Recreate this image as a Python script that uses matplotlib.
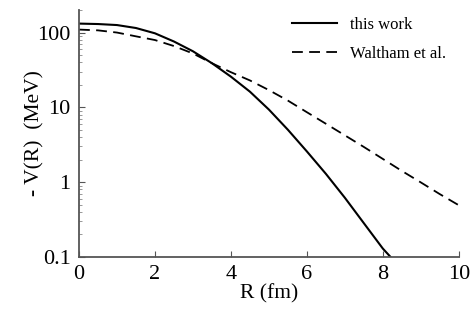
import matplotlib
matplotlib.use('Agg')
import matplotlib.pyplot as plt
import numpy as np

plt.rcParams['font.family'] = ['Liberation Serif', 'DejaVu Serif']

r_this = [0, 0.5, 1.0, 1.5, 2.0, 2.5, 3.0, 3.5, 4.0, 4.5, 5.0, 5.5, 6.0, 6.5, 7.0, 7.5, 8.0, 8.2]
v_this = [131.8, 130, 126, 115, 97.7, 75.9, 56.2, 38.9, 25.7, 16.2, 9.33, 5.01, 2.57, 1.29, 0.617, 0.282, 0.129, 0.1]

r_walt = [0, 0.5, 1.0, 1.5, 2.0, 2.5, 3.0, 3.5, 4.0, 4.5, 5.0, 5.5, 6.0, 6.5, 7.0, 7.5, 8.0, 8.5, 9.0, 9.5, 10.0]
v_walt = [109.6, 107, 100, 89, 79.4, 66, 52.5, 38.9, 29.5, 22.9, 17.0, 12.3, 8.6, 6.03, 4.22, 2.95, 2.04, 1.41, 0.99, 0.69, 0.49]

xticks = [0, 2, 4, 6, 8, 10]
yticks = [0.1, 1, 10, 100]
ytick_labels = ['0.1', '1', '10', '100']

fig = plt.figure(figsize=(4.73, 3.14), dpi=100)
ax = fig.add_axes([0.167, 0.182, 0.803, 0.786])

ax.plot(r_this, v_this, color='black', lw=1.5, label='this work')
ax.plot(r_walt, v_walt, color='black', lw=1.3, ls=(0, (6, 3.5)), label='Waltham et al.')

ax.set_yscale('log')
ax.set_xlim(0, 10)
ax.set_ylim(0.1, 200)
ax.set_xticks(xticks)
ax.set_xticklabels([str(t) for t in xticks])
ax.set_yticks(yticks)
ax.set_yticklabels(ytick_labels)

for s in ['top', 'right']:
    ax.spines[s].set_visible(False)
for s in ['left', 'bottom']:
    ax.spines[s].set_color('#555555')
    ax.spines[s].set_linewidth(1.3)

ax.tick_params(axis='both', which='major', direction='in', length=4, color='#555555',
               labelsize=16, pad=6)
ax.tick_params(axis='y', which='minor', direction='in', length=2, color='#888888')
ax.tick_params(axis='x', which='minor', bottom=False)

ax.set_xlabel('R (fm)', fontsize=15.5, labelpad=0)
ax.set_ylabel('- V(R)  (MeV)', fontsize=15.5, labelpad=-5)

ax.legend(loc='upper right', frameon=False, fontsize=12, handlelength=2.7,
          handletextpad=0.8, labelspacing=0.75, bbox_to_anchor=(1.006, 1.032))

fig.savefig('out.png', dpi=100)
